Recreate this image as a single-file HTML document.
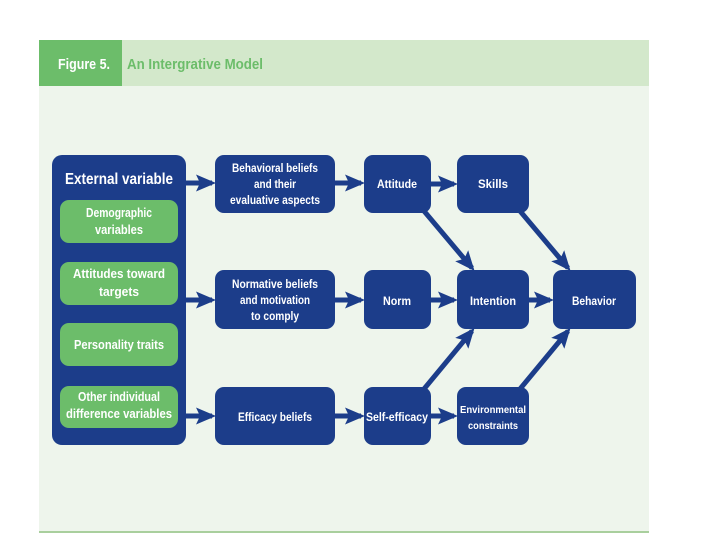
<!DOCTYPE html>
<html><head><style>
html,body{margin:0;padding:0;background:#fff;width:720px;height:540px;overflow:hidden}
svg text{font-family:"Liberation Sans Narrow","Liberation Sans",sans-serif;font-weight:bold;fill:#fff;text-anchor:middle}
</style></head><body>
<svg width="720" height="540" viewBox="0 0 720 540">
<defs>
<marker id="a" markerWidth="4" markerHeight="4" refX="3.2" refY="2" orient="auto" markerUnits="strokeWidth">
<path d="M0,0.3 L4,2 L0,3.7 L0.8,2 Z" fill="#1c3d8a"/>
</marker>
</defs>
<rect x="39" y="40" width="610" height="492" fill="#eef5ec"/>
<rect x="39" y="40" width="610" height="46" fill="#d3e8cb"/>
<rect x="39" y="40" width="83" height="46" fill="#6cbd6a"/>
<line x1="39" y1="532" x2="649" y2="532" stroke="#a9cf9d" stroke-width="2"/>
<text x="84" y="69" font-size="15" lengthAdjust="spacingAndGlyphs" textLength="52" style="fill:#fff">Figure 5.</text>
<text x="195" y="69" font-size="15" lengthAdjust="spacingAndGlyphs" textLength="136" style="fill:#6cbd6a">An Intergrative Model</text>

<g stroke="#1c3d8a" stroke-width="5" fill="none" marker-end="url(#a)">
<line x1="186" y1="183" x2="212" y2="183"/>
<line x1="186" y1="300" x2="212" y2="300"/>
<line x1="186" y1="416" x2="212" y2="416"/>
<line x1="335" y1="183" x2="361" y2="183"/>
<line x1="335" y1="300" x2="361" y2="300"/>
<line x1="335" y1="416" x2="361" y2="416"/>
<line x1="431" y1="184" x2="454" y2="184"/>
<line x1="431" y1="300" x2="454" y2="300"/>
<line x1="431" y1="416" x2="454" y2="416"/>
<line x1="529" y1="300" x2="550" y2="300"/>
<line x1="424" y1="211" x2="472" y2="268"/>
<line x1="424" y1="389" x2="472" y2="331"/>
<line x1="520" y1="211" x2="568" y2="268"/>
<line x1="520" y1="389" x2="568" y2="331"/>
</g>

<g fill="#1c3d8a">
<rect x="52" y="155" width="134" height="290" rx="10"/>
<rect x="215" y="155" width="120" height="58" rx="9"/>
<rect x="215" y="270" width="120" height="59" rx="9"/>
<rect x="215" y="387" width="120" height="58" rx="9"/>
<rect x="364" y="155" width="67" height="58" rx="9"/>
<rect x="457" y="155" width="72" height="58" rx="9"/>
<rect x="364" y="270" width="67" height="59" rx="9"/>
<rect x="457" y="270" width="72" height="59" rx="9"/>
<rect x="553" y="270" width="83" height="59" rx="9"/>
<rect x="364" y="387" width="67" height="58" rx="9"/>
<rect x="457" y="387" width="72" height="58" rx="9"/>
</g>
<g fill="#6cbd6a">
<rect x="60" y="200" width="118" height="43" rx="9"/>
<rect x="60" y="262" width="118" height="43" rx="9"/>
<rect x="60" y="323" width="118" height="43" rx="9"/>
<rect x="60" y="386" width="118" height="42" rx="9"/>
</g>

<text x="119" y="184" font-size="16" textLength="108" lengthAdjust="spacingAndGlyphs">External variable</text>
<g font-size="12.5" lengthAdjust="spacingAndGlyphs">
<text x="119" y="217" textLength="66" lengthAdjust="spacingAndGlyphs">Demographic</text>
<text x="119" y="234" textLength="48" lengthAdjust="spacingAndGlyphs">variables</text>
<text x="119" y="278" textLength="92" lengthAdjust="spacingAndGlyphs">Attitudes toward</text>
<text x="119" y="296" textLength="40" lengthAdjust="spacingAndGlyphs">targets</text>
<text x="119" y="349" textLength="90" lengthAdjust="spacingAndGlyphs">Personality traits</text>
<text x="119" y="401" textLength="82" lengthAdjust="spacingAndGlyphs">Other individual</text>
<text x="119" y="418" textLength="106" lengthAdjust="spacingAndGlyphs">difference variables</text>
</g>
<g font-size="11.5">
<text x="275" y="172" textLength="86" lengthAdjust="spacingAndGlyphs">Behavioral beliefs</text>
<text x="275" y="188" textLength="42" lengthAdjust="spacingAndGlyphs">and their</text>
<text x="275" y="204" textLength="90" lengthAdjust="spacingAndGlyphs">evaluative aspects</text>
<text x="275" y="288" textLength="86" lengthAdjust="spacingAndGlyphs">Normative beliefs</text>
<text x="275" y="304" textLength="70" lengthAdjust="spacingAndGlyphs">and motivation</text>
<text x="275" y="320" textLength="48" lengthAdjust="spacingAndGlyphs">to comply</text>
<text x="275" y="421" textLength="74" lengthAdjust="spacingAndGlyphs">Efficacy beliefs</text>
<text x="397" y="188" textLength="40" lengthAdjust="spacingAndGlyphs">Attitude</text>
<text x="493" y="188" textLength="30" lengthAdjust="spacingAndGlyphs">Skills</text>
<text x="397" y="305" textLength="28" lengthAdjust="spacingAndGlyphs">Norm</text>
<text x="493" y="305" textLength="46" lengthAdjust="spacingAndGlyphs">Intention</text>
<text x="594" y="305" textLength="44" lengthAdjust="spacingAndGlyphs">Behavior</text>
<text x="397" y="421" textLength="62" lengthAdjust="spacingAndGlyphs">Self-efficacy</text>
</g>
<g font-size="10.5">
<text x="493" y="413" textLength="66" lengthAdjust="spacingAndGlyphs">Environmental</text>
<text x="493" y="429" textLength="50" lengthAdjust="spacingAndGlyphs">constraints</text>
</g>
</svg>
</body></html>
